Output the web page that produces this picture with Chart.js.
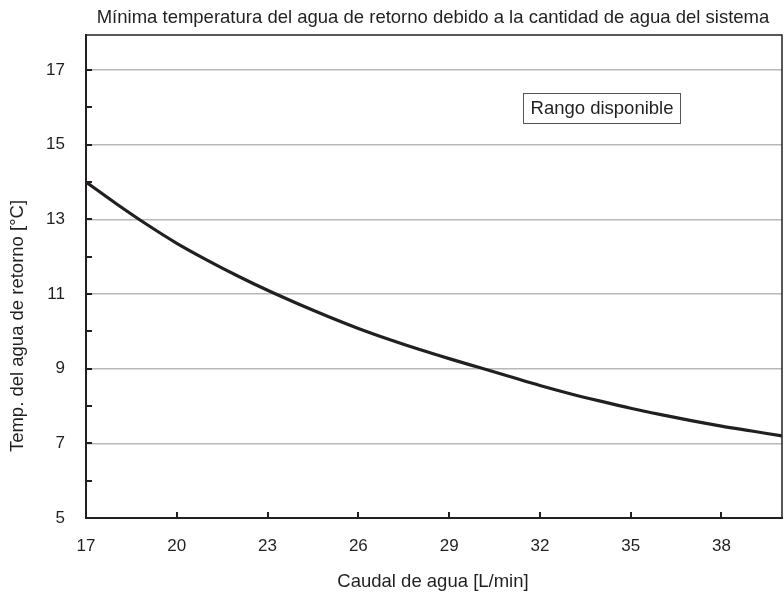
<!DOCTYPE html>
<html>
<head>
<meta charset="utf-8">
<script src="https://cdn.jsdelivr.net/npm/chart.js@4"></script>
<style>
  body { margin: 0; background: #fff; }
  #wrap { width: 784px; height: 595px; }
</style>
</head>
<body>
<div id="wrap"><canvas id="myChart" width="784" height="595"></canvas></div>
<script>
// values
const flowRates = [17, 18, 19, 20, 21, 22, 23, 24, 25, 26, 27, 28, 29, 30, 31, 32, 33, 34, 35, 36, 37, 38, 39, 40];
const returnTemps = [14.0, 13.42, 12.87, 12.36, 11.91, 11.49, 11.1, 10.74, 10.4, 10.08, 9.79, 9.52, 9.27, 9.03, 8.79, 8.55, 8.33, 8.13, 7.94, 7.77, 7.61, 7.46, 7.33, 7.2];
const xTickValues = [17, 20, 23, 26, 29, 32, 35, 38];
const yTickValues = [5, 7, 9, 11, 13, 15, 17];
const yMinorTicks = [6, 8, 10, 12, 14, 16];

const chartTitle = 'Mínima temperatura del agua de retorno debido a la cantidad de agua del sistema';
const xTitle = 'Caudal de agua [L/min]';
const yTitle = 'Temp. del agua de retorno [°C]';
const boxLabel = 'Rango disponible';

const FONT = "'Liberation Sans', Arial, sans-serif";
const INK = '#231f20';

// frame, inward ticks and the texts outside the plot
const decorations = {
    id: 'decorations',
    afterDraw(chart) {
        const { ctx, chartArea: a, scales } = chart;
        ctx.save();
        ctx.strokeStyle = INK;
        ctx.lineWidth = 2;
        ctx.beginPath();
        yTickValues.concat(yMinorTicks).forEach(v => {
            if (v === 5) return;
            const y = Math.round(scales.y.getPixelForValue(v));
            ctx.moveTo(a.left, y);
            ctx.lineTo(a.left + 6, y);
        });
        xTickValues.forEach(v => {
            if (v === 17) return;
            const x = Math.round(scales.x.getPixelForValue(v));
            ctx.moveTo(x, a.bottom);
            ctx.lineTo(x, a.bottom - 6);
        });
        ctx.stroke();

        ctx.lineWidth = 1.5;
        ctx.beginPath();
        ctx.moveTo(a.left, a.top);
        ctx.lineTo(a.right, a.top);
        ctx.lineTo(a.right, a.bottom);
        ctx.stroke();

        ctx.fillStyle = INK;
        ctx.font = '18.5px ' + FONT;
        ctx.textAlign = 'center';
        ctx.textBaseline = 'middle';
        const cx = (a.left + a.right) / 2;
        ctx.fillText(chartTitle, cx - 1, 18);
        ctx.fillText(xTitle, cx - 1, 582);

        ctx.save();
        ctx.translate(18, 326);
        ctx.rotate(-Math.PI / 2);
        ctx.fillText(yTitle, 0, 0);
        ctx.restore();

        // "Rango disponible" label box
        ctx.fillStyle = '#fff';
        ctx.fillRect(523, 93, 158, 30);
        ctx.strokeStyle = '#555';
        ctx.lineWidth = 1;
        ctx.strokeRect(523.5, 93.5, 157, 30);
        ctx.fillStyle = INK;
        ctx.fillText(boxLabel, 602, 109);
        ctx.restore();
    }
};

const ctx = document.getElementById('myChart');
new Chart(ctx, {
    type: 'line',
    data: {
        datasets: [{
            data: flowRates.map((q, i) => ({ x: q, y: returnTemps[i] })),
            borderColor: INK,
            borderWidth: 3.2,
            pointRadius: 0,
            cubicInterpolationMode: 'monotone',
            fill: false
        }]
    },
    options: {
        responsive: false,
        animation: false,
        layout: { padding: { top: 35, right: 2, left: 0, bottom: 0 } },
        plugins: {
            legend: { display: false },
            tooltip: { enabled: false },
            title: { display: false }
        },
        scales: {
            x: {
                type: 'linear',
                min: 17,
                max: 40,
                afterBuildTicks: scale => { scale.ticks = xTickValues.map(v => ({ value: v })); },
                afterFit: scale => { scale.height = 77; },
                grid: { display: false, drawTicks: false },
                border: { color: INK, width: 2 },
                ticks: { color: INK, font: { family: FONT, size: 17 }, padding: 18, maxRotation: 0 }
            },
            y: {
                type: 'linear',
                min: 5,
                max: 17.94,
                afterBuildTicks: scale => { scale.ticks = yTickValues.map(v => ({ value: v })); },
                afterFit: scale => { scale.width = 86; },
                grid: { color: '#b8b8b8', lineWidth: 1.5, drawTicks: false },
                border: { color: INK, width: 2 },
                ticks: { color: INK, font: { family: FONT, size: 17 }, padding: 21 }
            }
        }
    },
    plugins: [decorations]
});
</script>
</body>
</html>
